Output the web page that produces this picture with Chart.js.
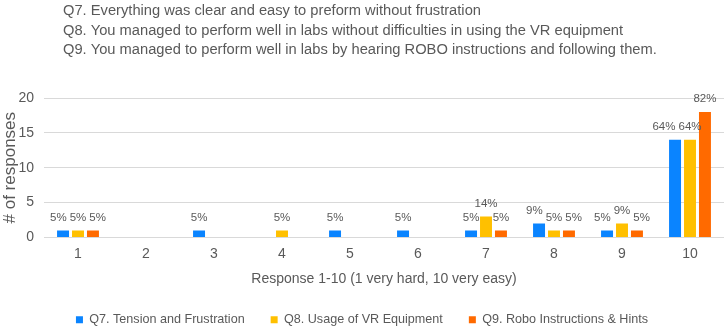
<!DOCTYPE html>
<html><head><meta charset="utf-8">
<script src="https://cdn.jsdelivr.net/npm/chart.js"></script>
<style>html,body{margin:0;padding:0;background:#fff}#wrap{width:726px;height:329px;position:relative}</style>
</head><body><div id="wrap"><canvas id="c"></canvas></div>
<script>
const categories = ['1','2','3','4','5','6','7','8','9','10'];
const q7Values = [1,0,1,0,1,1,1,2,1,14];
const q8Values = [1,0,0,1,0,0,3,1,2,14];
const q9Values = [1,0,0,0,0,0,1,1,1,18];
const q7Pct = ['5%','','5%','','5%','5%','5%','9%','5%','64%'];
const q8Pct = ['5%','','','5%','','','14%','5%','9%','64%'];
const q9Pct = ['5%','','','','','','5%','5%','5%','82%'];
const seriesNames = ['Q7. Tension and Frustration','Q8. Usage of VR Equipment','Q9. Robo Instructions & Hints'];
const yTicks = [0,5,10,15,20];
const titleLines = [
  'Q7. Everything was clear and easy to preform without frustration',
  'Q8. You managed to perform well in labs without difficulties in using the VR equipment',
  'Q9. You managed to perform well in labs by hearing ROBO instructions and following them.'
];
const xTitle = 'Response 1-10 (1 very hard, 10 very easy)';
const yTitle = '# of responses';

const GRAY = '#595959';
const FONT = '"Liberation Sans", Arial, sans-serif';
const pctLabels = [q7Pct, q8Pct, q9Pct];

const topTitle = {
  id: 'topTitle',
  afterDraw(chart) {
    const ctx = chart.ctx;
    ctx.save();
    ctx.fillStyle = GRAY;
    ctx.font = '14.7px ' + FONT;
    ctx.textBaseline = 'middle';
    ctx.textAlign = 'left';
    titleLines.forEach((t, i) => ctx.fillText(t, 63, 11 + i * 19.5));
    ctx.restore();
  }
};
// value labels: middle series label stays on its bar, neighbours are nudged sideways when they collide
const valueLabels = {
  id: 'valueLabels',
  afterDatasetsDraw(chart) {
    const ctx = chart.ctx;
    ctx.save();
    ctx.fillStyle = GRAY;
    ctx.font = '11.5px ' + FONT;
    ctx.textAlign = 'center';
    ctx.textBaseline = 'middle';
    const gap = 3;
    const metas = [0, 1, 2].map(d => chart.getDatasetMeta(d));
    categories.forEach((c, i) => {
      const L = metas.map((m, d) => {
        const t = pctLabels[d][i];
        if (!t) return null;
        const bar = m.data[i];
        return { t, x: bar.x, y: bar.y - 13, w: ctx.measureText(t).width };
      });
      const mid = L[1];
      if (mid) {
        const a = L[0];
        if (a && Math.abs(a.y - mid.y) < 10 && a.x + a.w / 2 + gap > mid.x - mid.w / 2) {
          a.x = mid.x - mid.w / 2 - gap - a.w / 2;
        }
        const b = L[2];
        if (b && Math.abs(b.y - mid.y) < 10 && b.x - b.w / 2 - gap < mid.x + mid.w / 2) {
          b.x = mid.x + mid.w / 2 + gap + b.w / 2;
        }
      }
      L.forEach(l => { if (l) ctx.fillText(l.t, l.x, l.y); });
    });
    ctx.restore();
  }
};

new Chart(document.getElementById('c'), {
  type: 'bar',
  data: {
    labels: categories,
    datasets: [
      { label: seriesNames[0], data: q7Values, backgroundColor: '#0A84FF' },
      { label: seriesNames[1], data: q8Values, backgroundColor: '#FFC000' },
      { label: seriesNames[2], data: q9Values, backgroundColor: '#FF6A00' }
    ]
  },
  options: {
    responsive: true,
    maintainAspectRatio: false,
    animation: false,
    datasets: { bar: { categoryPercentage: 0.66, barPercentage: 0.8 } },
    layout: { padding: { top: 98, right: 2, left: 0, bottom: -7 } },
    plugins: {
      legend: {
        position: 'bottom',
        labels: { boxWidth: 7, boxHeight: 7, padding: 26, color: GRAY, font: { family: FONT, size: 12.6 } }
      },
      tooltip: { enabled: false },
      title: { display: false }
    },
    scales: {
      x: {
        grid: { display: false },
        border: { display: false },
        ticks: { color: GRAY, font: { family: FONT, size: 14 }, padding: 0 },
        title: { display: true, text: xTitle, color: GRAY, font: { family: FONT, size: 14 }, padding: { top: 4, bottom: 0 } },
        afterFit(scale) { scale.height = 50; }
      },
      y: {
        min: 0, max: 20,
        afterBuildTicks(scale) { scale.ticks = yTicks.map(v => ({ value: v })); },
        grid: { color: '#D9D9D9', drawTicks: false },
        border: { display: false },
        ticks: { color: GRAY, font: { family: FONT, size: 14 }, padding: 10 },
        title: { display: true, text: yTitle, color: GRAY, font: { family: FONT, size: 17 }, padding: { top: 0, bottom: 2 } },
        afterFit(scale) { scale.width = 44; }
      }
    }
  },
  plugins: [topTitle, valueLabels]
});
</script></body></html>
